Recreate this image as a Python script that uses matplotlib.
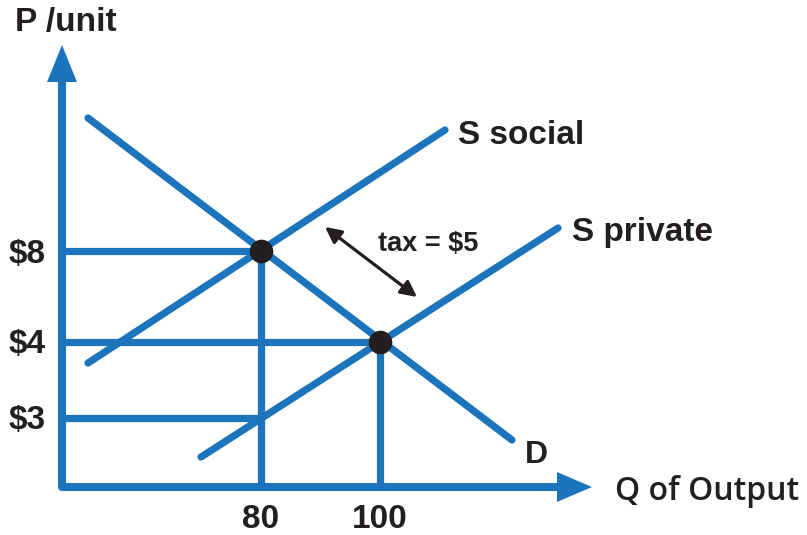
"""externality diagram: private vs social supply with tax"""

import matplotlib.pyplot as plt

# chart units: offset in pixels from the axes origin
demand_q = [26, 450]
demand_p = [369, 47]
social_q = [26, 383]
social_p = [124, 357]
private_q = [139, 496]
private_p = [30, 259]

eq_q = [199, 318]
eq_p = [236, 145]
low_p = 69  # price on S private at Q = 80

q_labels = ['80', '100']
p_labels = ['$8', '$4', '$3']
p_levels = [eq_p[0], eq_p[1], low_p]

blue = '#1c75bc'
dark = '#231f20'

# figure
fig = plt.figure(figsize=(8.07, 5.35), dpi=100)
ax = fig.add_axes([0, 0, 1, 1])
ax.set_xlim(-62, 745)
ax.set_ylim(-48, 487)
ax.axis('off')

# axes with arrows
ax.plot([0, 0, 500], [410, 0, 0], color=blue, lw=5.8, solid_joinstyle='round', solid_capstyle='butt', zorder=2)
ax.fill([-15, 0, 15], [405, 442, 405], color=blue, lw=0, zorder=2)
ax.fill([495, 530, 495], [-15, 0, 15], color=blue, lw=0, zorder=2)

# guide lines
ax.plot([0, eq_q[0]], [p_levels[0]] * 2, color=blue, lw=5.2, solid_capstyle='butt', zorder=2)
ax.plot([0, eq_q[1]], [p_levels[1]] * 2, color=blue, lw=5.2, solid_capstyle='butt', zorder=2)
ax.plot([0, eq_q[0]], [p_levels[2]] * 2, color=blue, lw=5.2, solid_capstyle='butt', zorder=2)
ax.plot([eq_q[0]] * 2, [0, eq_p[0]], color=blue, lw=5.2, solid_capstyle='butt', zorder=2)
ax.plot([eq_q[1]] * 2, [0, eq_p[1]], color=blue, lw=5.2, solid_capstyle='butt', zorder=2)

# curves
for qs, ps in [(demand_q, demand_p), (social_q, social_p), (private_q, private_p)]:
    ax.plot(qs, ps, color=blue, lw=5.2, solid_capstyle='round', zorder=3)

# equilibrium points
ax.plot(eq_q, eq_p, 'o', color=dark, ms=16, zorder=4)

# tax arrow
ax.annotate('', xy=(263, 260), xytext=(355, 190),
            arrowprops=dict(arrowstyle='<|-|>', color=dark, lw=2.3, mutation_scale=24, shrinkA=0, shrinkB=0))

# text
font = dict(family='Liberation Sans', weight='bold', color=dark)
ax.text(-47, 464, 'P /unit', fontsize=24, ha='left', va='center', **font)
for lab, lv in zip(p_labels, p_levels):
    ax.text(-16, lv - 3, lab, fontsize=24, ha='right', va='center', **font)
for lab, q in zip(q_labels, eq_q):
    ax.text(q, -33, lab, fontsize=24, ha='center', va='center', **font)
ax.text(396, 352, 'S social', fontsize=24, ha='left', va='center', **font)
ax.text(510, 254, 'S private', fontsize=24, ha='left', va='center', **font)
ax.text(463, 32, 'D', fontsize=23, ha='left', va='center', **font)
ax.text(316, 243, 'tax = $5', fontsize=19.5, ha='left', va='center', **font)
ax.text(553, -4, 'Q of Output', fontsize=23, ha='left', va='center',
        family='Open Sans', weight='semibold', color=dark)

fig.savefig('out.png', dpi=100)
